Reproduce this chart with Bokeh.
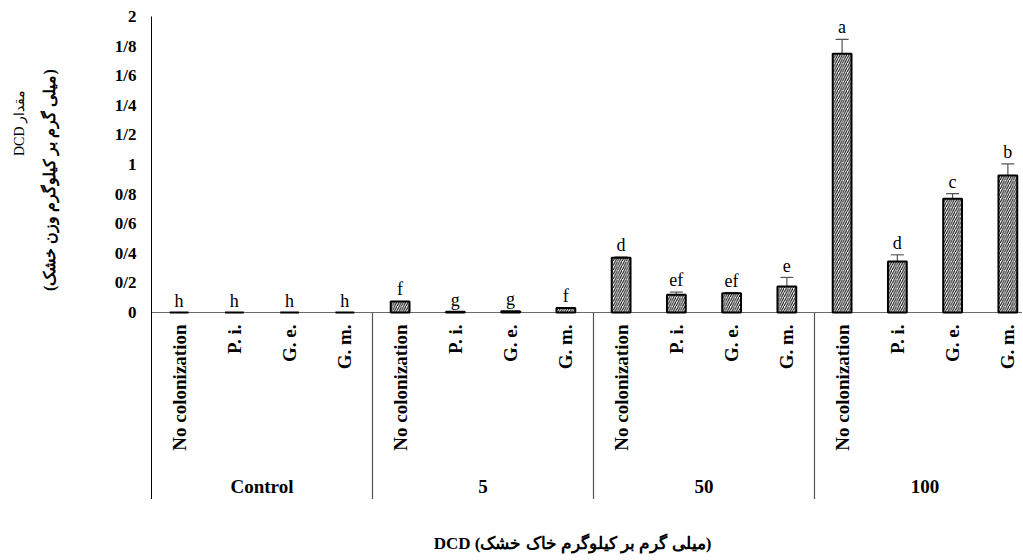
import math
from bokeh.plotting import figure
from bokeh.layouts import row, column
from bokeh.models import ColumnDataSource, FixedTicker, Whisker, TeeHead, Range1d
from bokeh.core.properties import value
from bokeh.embed import file_html
from bokeh.resources import INLINE

# ---- data ----
groups = ["Control", "5", "50", "100"]
treatments = ["No colonization", "P. i.", "G. e.", "G. m."]
values_control = [0.0, 0.0, 0.0, 0.0]
values_5 = [0.075, 0.005, 0.008, 0.03]
values_50 = [0.37, 0.12, 0.13, 0.176]
values_100 = [1.748, 0.345, 0.769, 0.926]
err_control = [0.0, 0.0, 0.0, 0.0]
err_5 = [0.0, 0.0, 0.0, 0.0]
err_50 = [0.005, 0.018, 0.005, 0.061]
err_100 = [0.097, 0.045, 0.034, 0.078]
letters_control = ["h", "h", "h", "h"]
letters_5 = ["f", "g", "g", "f"]
letters_50 = ["d", "ef", "ef", "e"]
letters_100 = ["a", "d", "c", "b"]
tick_values = [0, 0.2, 0.4, 0.6, 0.8, 1, 1.2, 1.4, 1.6, 1.8, 2]
tick_labels = ["0", "0/2", "0/4", "0/6", "0/8", "1", "1/2", "1/4", "1/6", "1/8", "2"]
y_title_1 = "DCD مقدار"
y_title_2 = "(میلی گرم بر کیلوگرم وزن خشک)"
x_title = "DCD (میلی گرم بر کیلوگرم خاک خشک)"

all_vals = values_control + values_5 + values_50 + values_100
all_errs = err_control + err_5 + err_50 + err_100
all_letters = letters_control + letters_5 + letters_50 + letters_100
n = len(all_vals)
xs = [i + 0.5 for i in range(n)]
cats = treatments * len(groups)

SERIF = "Liberation Serif"


def blank(fig):
    fig.outline_line_color = None
    fig.xgrid.visible = False
    fig.ygrid.visible = False
    fig.xaxis.visible = False
    fig.yaxis.visible = False


# ---- main chart ----
y_start = -1.2635
p = figure(width=922, height=499, x_range=(0, 15.765), y_range=(y_start, 2.0),
           output_backend="svg", toolbar_location=None,
           min_border_left=51, min_border_right=0, min_border_top=16, min_border_bottom=0)
p.outline_line_color = None
p.xgrid.visible = False
p.ygrid.visible = False
p.xaxis.visible = False

ya = p.yaxis[0]
ya.ticker = FixedTicker(ticks=tick_values)
ya.major_label_overrides = {v: l for v, l in zip(tick_values, tick_labels)}
ya.major_tick_line_color = None
ya.minor_tick_line_color = None
ya.major_tick_out = 0
ya.axis_line_color = "black"
ya.axis_line_width = 1
ya.major_label_standoff = 15
ya.major_label_text_font = SERIF
ya.major_label_text_font_style = "bold"
ya.major_label_text_font_size = "17px"
ya.major_label_text_color = "black"

# baseline and group separators
p.segment(x0=[0], y0=[0], x1=[n], y1=[0], line_color="#6b6b6b", line_width=1.2)
sep_x = [4 * (g + 1) for g in range(len(groups))]
p.segment(x0=sep_x, y0=[0] * len(sep_x), x1=sep_x, y1=[y_start] * len(sep_x),
          line_color="#555555", line_width=1.2)

src = ColumnDataSource(dict(x=xs, top=all_vals, err=all_errs,
                            up=[v + e for v, e in zip(all_vals, all_errs)],
                            lab=all_letters, cat=cats))

p.vbar(x="x", top="top", bottom=0, width=0.34, source=src,
       fill_color="white", line_color="black", line_width=2,
       hatch_pattern="/", hatch_color="black", hatch_weight=1.0, hatch_scale=4.5)

ebi = [i for i in range(n) if all_errs[i] > 0]
esrc = ColumnDataSource(dict(x=[xs[i] for i in ebi],
                             up=[all_vals[i] + all_errs[i] for i in ebi],
                             lo=[all_vals[i] - all_errs[i] for i in ebi]))
w = Whisker(base="x", upper="up", lower="lo", source=esrc, dimension="height",
            line_color="#555555", line_width=1.2,
            upper_head=TeeHead(size=13, line_color="#555555", line_width=1.2),
            lower_head=None)
p.add_layout(w)

# significance letters
p.text(x="x", y="up", text="lab", source=src, text_align="center",
       text_baseline="alphabetic", y_offset=-12,
       text_font=value(SERIF), text_font_size="18px", text_color="black")

# treatment labels (rotated)
p.text(x="x", y=0, text="cat", source=src, angle=math.pi / 2,
       text_align="right", text_baseline="middle", y_offset=12,
       text_font=value(SERIF), text_font_size="19px", text_font_style="bold",
       text_color="black")

# group labels
gsrc = ColumnDataSource(dict(x=[4 * g + 2 for g in range(len(groups))], t=groups))
p.text(x="x", y=0, text="t", source=gsrc, text_align="center",
       text_baseline="middle", y_offset=174,
       text_font=value(SERIF), text_font_size="19px", text_font_style="bold",
       text_color="black")

# ---- left strip with the y-axis title (pixel coordinates, y downward) ----
left = figure(width=100, height=499, x_range=Range1d(0, 100), y_range=Range1d(499, 0),
              output_backend="svg", toolbar_location=None,
              min_border=0, min_border_left=0, min_border_right=0,
              min_border_top=0, min_border_bottom=0)
blank(left)
left.text(x=[19], y=[110], text=[y_title_1], angle=math.pi / 2,
          text_align="center", text_baseline="middle",
          text_font=value(SERIF), text_font_size="14px",
          text_font_style="normal", text_color="black")
left.text(x=[49], y=[169], text=[y_title_2], angle=math.pi / 2,
          text_align="center", text_baseline="middle",
          text_font=value(SERIF), text_font_size="16px",
          text_font_style="bold", text_color="black")

# ---- bottom strip with the x-axis title ----
bottom = figure(width=1022, height=56, x_range=Range1d(0, 1022), y_range=Range1d(56, 0),
                output_backend="svg", toolbar_location=None,
                min_border=0, min_border_left=0, min_border_right=0,
                min_border_top=0, min_border_bottom=0)
blank(bottom)
bottom.text(x=[572], y=[44], text=[x_title], text_align="center", text_baseline="middle",
            text_font=value(SERIF), text_font_size="17px", text_font_style="bold",
            text_color="black")

layout = column(row(left, p, spacing=0), bottom, spacing=0)
open("out.html", "w").write(file_html(layout, INLINE))
